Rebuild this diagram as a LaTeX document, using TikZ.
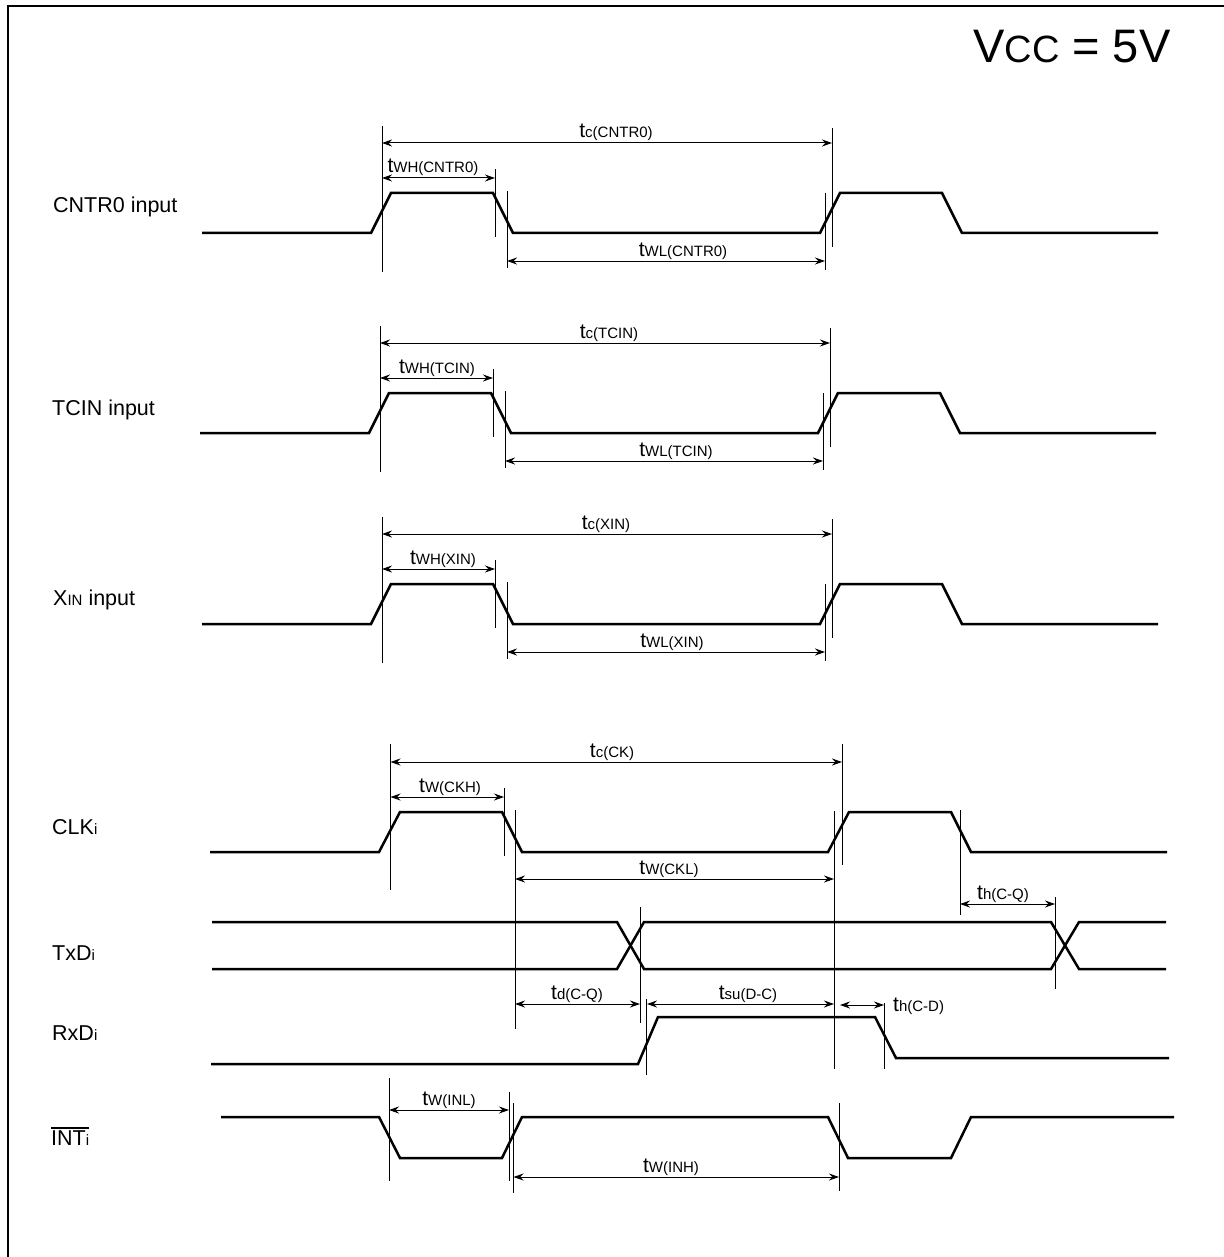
\documentclass[tikz,border=0pt]{standalone}
\usepackage{fontspec}
\setmainfont{Liberation Sans}
\usetikzlibrary{arrows.meta}
\newcommand\tsub[1]{{\fontsize{21}{21}\selectfont t}{\fontsize{15}{15}\selectfont #1}}
\newcommand\ssub[1]{{\fontsize{15}{15}\selectfont #1}}
\newcommand\inwave[2]{%
\begin{scope}[shift={(#1,#2)}]
\draw[sig] (202,233) -- (371,233) -- (391,193) -- (493,193) -- (513,233) -- (820,233) -- (840,193) -- (942,193) -- (962,233) -- (1158,233);
\draw[vline] (382,126) -- (382,272);
\draw[vline] (832,128) -- (832,247);
\draw[vline] (495,169) -- (495,237);
\draw[vline] (507,191) -- (507,268);
\draw[vline] (825,193) -- (825,270);
\draw[dim] (382,143) -- (832,143);
\draw[dim] (382,178) -- (495,178);
\draw[dim] (507,261) -- (825,261);
\end{scope}}
\begin{document}
\begin{tikzpicture}[x=1pt,y=-1pt,
  sig/.style={line width=2.5pt, line join=miter},
  vline/.style={line width=1pt},
  dim/.style={line width=1pt, {Stealth[length=10pt,width=7pt]}-{Stealth[length=10pt,width=7pt]}},
  tlab/.style={anchor=base, inner sep=0pt},
  siglab/.style={anchor=base west, inner sep=0pt, font=\fontsize{21.5}{21.5}\selectfont}
]
\useasboundingbox (0,0) rectangle (1223,1257);
\draw[line width=2pt] (7.5,1260) -- (7.5,6) -- (1225,6);

% title
\node[anchor=base west, inner sep=0pt] (vcc) at (973,63)
  {\fontsize{47}{47}\selectfont V\fontsize{38}{38}\selectfont CC\fontsize{47}{47}\selectfont{} = 5V};

% signal labels
\node[siglab] (lcntr) at (53,213) {CNTR0 input};
\node[siglab] (ltcin) at (52,415) {TCIN input};
\node[siglab] (lxin) at (53,605) {X\ssub{IN} input};
\node[siglab] (lclk) at (52,834) {CLK\ssub{i}};
\node[siglab] (ltxd) at (52,960) {TxD\ssub{i}};
\node[siglab] (lrxd) at (52,1040) {RxD\ssub{i}};
\node[siglab] (lint) at (51,1145) {INT\ssub{i}};
\draw[line width=1.2pt] ([yshift=2pt]lint.north west) -- ([yshift=2pt]lint.north east);

% three input panels
\inwave{0}{0}
\inwave{-2}{200}
\inwave{0}{391}

\node[tlab] (l1) at (616,138) {\tsub{c(CNTR0)}};
\node[tlab] (l2) at (433,173) {\tsub{WH(CNTR0)}};
\node[tlab] (l3) at (683,256) {\tsub{WL(CNTR0)}};
\node[tlab] (l4) at (609,338) {\tsub{c(TCIN)}};
\node[tlab] (l5) at (437,373) {\tsub{WH(TCIN)}};
\node[tlab] (l6) at (676,456) {\tsub{WL(TCIN)}};
\node[tlab] (l7) at (606,529) {\tsub{c(XIN)}};
\node[tlab] (l8) at (443,564) {\tsub{WH(XIN)}};
\node[tlab] (l9) at (672,647) {\tsub{WL(XIN)}};

% CLK
\draw[sig] (210,852) -- (379,852) -- (400,812) -- (502,812) -- (522,852) -- (828,852) -- (849,812) -- (951,812) -- (971,852) -- (1167,852);
\draw[vline] (390.5,744) -- (390.5,890);
\draw[vline] (842,744) -- (842,865);
\draw[vline] (504,788) -- (504,856);
\draw[vline] (515,810) -- (515,1029);
\draw[vline] (834,811) -- (834,1069);
\draw[vline] (960,810) -- (960,915);
\draw[dim] (390.5,762) -- (842,762);
\draw[dim] (390.5,797) -- (504,797);
\draw[dim] (515,879) -- (834,879);
\draw[dim] (960,904) -- (1055,904);
\node[tlab] (l10) at (612,757) {\tsub{c(CK)}};
\node[tlab] (l11) at (450,792) {\tsub{W(CKH)}};
\node[tlab] (l12) at (669,874) {\tsub{W(CKL)}};
\node[tlab] (l13) at (1003,899) {\tsub{h(C-Q)}};

% TxD
\draw[sig] (212,922) -- (617,922) -- (644,969) -- (1051,969) -- (1079,922) -- (1166,922);
\draw[sig] (212,969) -- (617,969) -- (644,922) -- (1051,922) -- (1079,969) -- (1166,969);
\draw[vline] (640,907) -- (640,1023);
\draw[vline] (1055,897) -- (1055,989);

% RxD
\draw[sig] (211,1064) -- (638,1064) -- (658,1017) -- (875,1017) -- (896,1058) -- (1169,1058);
\draw[vline] (646.5,999) -- (646.5,1075);
\draw[vline] (884,1003) -- (884,1069);
\draw[dim] (515,1004) -- (640,1004);
\draw[dim] (647,1004) -- (834,1004);
\draw[dim] (840,1005) -- (884,1005);
\node[tlab] (l14) at (577,999) {\tsub{d(C-Q)}};
\node[tlab] (l15) at (748,999) {\tsub{su(D-C)}};
\node[anchor=base west, inner sep=0pt] (l16) at (893,1011) {\tsub{h(C-D)}};

% INT
\draw[sig] (221,1117) -- (379,1117) -- (400,1158) -- (502,1158) -- (522,1117) -- (828,1117) -- (848,1158) -- (951,1158) -- (971,1117) -- (1174,1117);
\draw[vline] (389,1078) -- (389,1181);
\draw[vline] (509,1092) -- (509,1181);
\draw[vline] (513.5,1103) -- (513.5,1193);
\draw[vline] (839,1103) -- (839,1191);
\draw[dim] (389,1110) -- (509,1110);
\draw[dim] (513.5,1177) -- (839,1177);
\node[tlab] (l17) at (449,1105) {\tsub{W(INL)}};
\node[tlab] (l18) at (671,1172) {\tsub{W(INH)}};
\end{tikzpicture}
\end{document}
